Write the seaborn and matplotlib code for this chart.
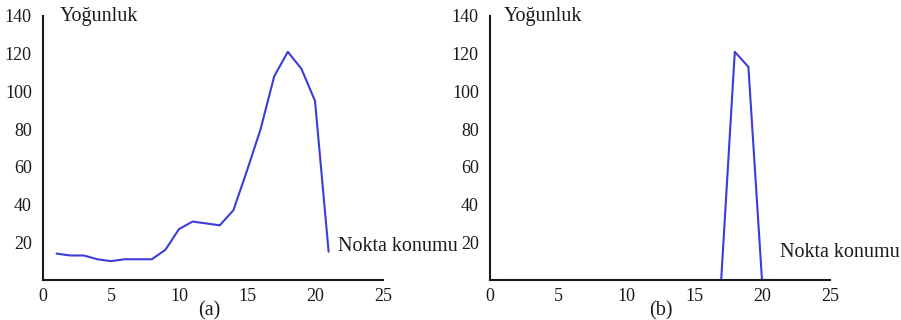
import numpy as np
import pandas as pd
import matplotlib
matplotlib.use("Agg")
import matplotlib.pyplot as plt
import seaborn as sns

# data
pos_a = list(range(1, 22))
yog_a = [14, 13, 13, 11, 10, 11, 11, 11, 16, 27, 31, 30, 29, 37, 58, 80, 108, 121, 112, 95, 15]

pos_b = list(range(1, 22))
yog_b = [0] * 16 + [0, 121, 113, 0, 0]

yticks = [20, 40, 60, 80, 100, 120, 140]
xticks = [0, 5, 10, 15, 20, 25]

sns.set_style("white")
plt.rcParams['font.family'] = ['Liberation Serif', 'DejaVu Serif']

fig = plt.figure(figsize=(9.01, 3.2), dpi=100)
ax1 = fig.add_axes([0.0477, 0.125, 0.3774, 0.825])
ax2 = fig.add_axes([0.5438, 0.125, 0.3774, 0.825])

line_col = '#3c3cd8'
df_a = pd.DataFrame({'x': pos_a, 'y': yog_a})
df_b = pd.DataFrame({'x': pos_b, 'y': yog_b})
sns.lineplot(data=df_a, x='x', y='y', ax=ax1, color=line_col, linewidth=1.5)
sns.lineplot(data=df_b, x='x', y='y', ax=ax2, color=line_col, linewidth=1.5)

txt_col = '#1a1a1a'
for ax, lab, nx, ny, yx, labx in [(ax1, '(a)', 21.7, 18, 1.2, 12.2),
                                  (ax2, '(b)', 21.3, 14.5, 1.0, 12.6)]:
    ax.set_xlim(0, 25)
    ax.set_ylim(0, 140)
    ax.set_xticks(xticks)
    ax.set_yticks(yticks)
    ax.set_xlabel('')
    ax.set_ylabel('')
    for s in ['top', 'right']:
        ax.spines[s].set_visible(False)
    for s in ['left', 'bottom']:
        ax.spines[s].set_color(txt_col)
        ax.spines[s].set_linewidth(1.5)
    ax.tick_params(axis='both', direction='in', length=3, width=1.2,
                   labelsize=13, colors=txt_col)
    ax.tick_params(axis='x', pad=6)
    ax.tick_params(axis='y', pad=8)
    ax.text(yx, 140, 'Yoğunluk', fontsize=14.5, ha='left', va='center',
            color=txt_col, clip_on=False)
    ax.text(nx, ny, 'Nokta konumu', fontsize=14.5, ha='left', va='center',
            color=txt_col, clip_on=False)
    ax.text(labx, -16.5, lab, fontsize=14.5, ha='center', va='center',
            color=txt_col, clip_on=False)
    ax.patch.set_alpha(0)

fig.savefig('out.png', dpi=100)
